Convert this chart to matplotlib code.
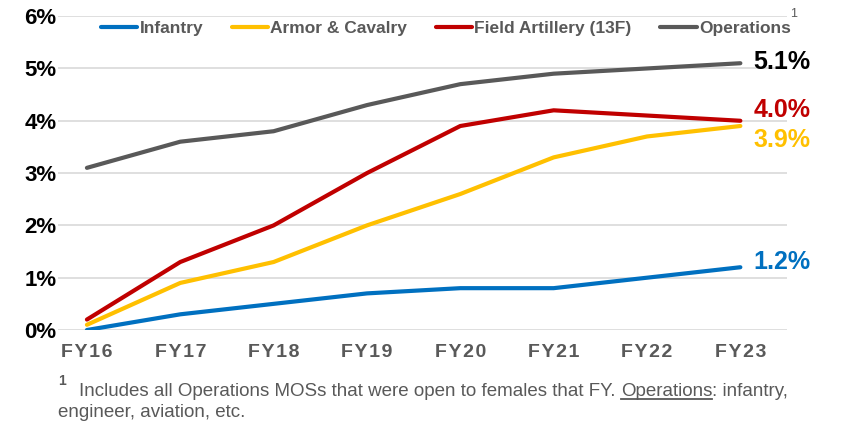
import matplotlib
matplotlib.use("Agg")
import matplotlib.pyplot as plt

# data (percent)
years = ["FY16", "FY17", "FY18", "FY19", "FY20", "FY21", "FY22", "FY23"]
infantry = [0.0, 0.3, 0.5, 0.7, 0.8, 0.8, 1.0, 1.2]
armor = [0.1, 0.9, 1.3, 2.0, 2.6, 3.3, 3.7, 3.9]
artillery = [0.2, 1.3, 2.0, 3.0, 3.9, 4.2, 4.1, 4.0]
operations = [3.1, 3.6, 3.8, 4.3, 4.7, 4.9, 5.0, 5.1]

names = ["Infantry", "Armor & Cavalry", "Field Artillery (13F)", "Operations"]
colors = ["#0070C0", "#FFC000", "#C00000", "#595959"]
end_labels = ["1.2%", "3.9%", "4.0%", "5.1%"]
label_colors = ["#0070C0", "#FFC000", "#C00000", "#000000"]
label_shift = [5, -14, 11, 1]  # pixels, to keep end labels apart

plt.rcParams['font.family'] = ['Liberation Sans', 'DejaVu Sans']

fig = plt.figure(figsize=(8.44, 4.25), dpi=100)
ax = fig.add_axes([0.0687, 0.2235, 0.8638, 0.7385])

x = list(range(len(years)))
series = [infantry, armor, artillery, operations]
for vals, name, c in zip(series, names, colors):
    ax.plot(x, vals, color=c, linewidth=3, label=name, solid_capstyle='round')

for vals, lab, c, dy in zip(series, end_labels, label_colors, label_shift):
    ax.annotate(lab, xy=(x[-1], vals[-1]), xytext=(13, dy), textcoords='offset pixels',
                ha='left', va='center', fontsize=18, fontweight='bold', color=c)

ax.set_xlim(-0.31, 7.5)
ax.set_ylim(0, 6)
ax.set_yticks(range(7))
ax.set_yticklabels([f"{i}%" for i in range(7)], fontsize=16, fontweight='bold', color='black')
ax.set_xticks(x)
# slightly letter-spaced labels, the original uses a wide bold face
ax.set_xticklabels(["\u200a".join(y) for y in years], fontsize=14, fontweight='bold', color='#595959')
ax.tick_params(axis='y', length=0, pad=1)
ax.tick_params(axis='x', length=0, pad=10)
ax.grid(axis='y', color='#D9D9D9', linewidth=1.2)
ax.set_axisbelow(True)
for s in ax.spines.values():
    s.set_visible(False)

leg = ax.legend(loc='center', bbox_to_anchor=(0.532, 0.962), ncol=4, frameon=True,
                fancybox=False, edgecolor='none', facecolor='white', framealpha=1,
                handlelength=2.1, handletextpad=0.12, columnspacing=1.65,
                borderpad=0.2, prop={'weight': 'bold', 'size': 12.5})
for t in leg.get_texts():
    t.set_color('#595959')
fig.text(0.94, 0.968, "1", fontsize=9, color='#595959', ha='center', va='center')

# footnote
foot_font = ['Liberation Sans', 'DejaVu Sans']
fs = 13.5
W = fig.bbox.width
fig.text(0.069, 0.094, "1", fontsize=10, fontweight='bold', color='#595959', va='baseline')
t1 = fig.text(0.094, 0.068, "Includes all Operations MOSs that were open to females that FY.",
              fontsize=fs, color='#595959', va='baseline', family=foot_font)
fig.canvas.draw()
r = fig.canvas.get_renderer()
x2 = (t1.get_window_extent(r).x1 + 5) / W
t2 = fig.text(x2, 0.068, "Operations", fontsize=fs, color='#595959', va='baseline', family=foot_font)
x3 = t2.get_window_extent(r).x1 / W
fig.add_artist(plt.Line2D([x2, x3], [0.061, 0.061], color='#595959', linewidth=1.3,
                          transform=fig.transFigure))
fig.text(x3, 0.068, ": infantry,", fontsize=fs, color='#595959', va='baseline', family=foot_font)
fig.text(0.069, 0.018, "engineer, aviation, etc.", fontsize=fs, color='#595959', va='baseline',
         family=foot_font)

fig.savefig("out.png", dpi=100)
